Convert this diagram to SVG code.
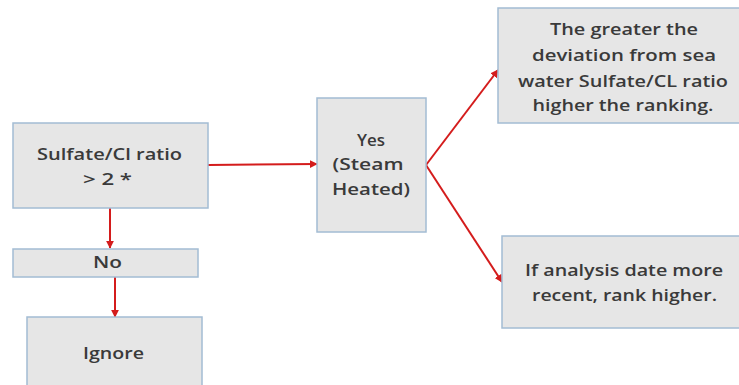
<svg xmlns="http://www.w3.org/2000/svg" width="739" height="385" viewBox="0 0 739 385">
  <defs>
    <style>
      .box { fill: #e6e6e6; stroke: #a3bcd3; stroke-width: 1.5; }
      .lbl { font-family: "Open Sans", "Liberation Sans", Arial, sans-serif; font-size: 16px; font-weight: 600; fill: #3a3a3a; text-anchor: middle; }
      .conn { stroke: #d41c1c; stroke-width: 2; fill: none; marker-end: url(#arrow); }
    </style>
    <marker id="arrow" viewBox="0 0 10 10" refX="9" refY="5" markerWidth="4" markerHeight="4" orient="auto">
      <path d="M0,0 L10,5 L0,10 z" fill="#d41c1c"/>
    </marker>
  </defs>
  <rect width="739" height="385" fill="#fff"/>

  <g id="connectors">
    <line class="conn" x1="208" y1="165" x2="317" y2="164"/>
    <line class="conn" x1="110" y1="208" x2="110" y2="248"/>
    <line class="conn" x1="115" y1="277" x2="115" y2="317"/>
    <line class="conn" x1="426" y1="165" x2="498" y2="70"/>
    <line class="conn" x1="426" y1="165" x2="502" y2="282"/>
  </g>

  <g id="ratio">
    <rect class="box" x="13" y="123" width="195" height="85"/>
    <text class="lbl" x="109.5" y="160" textLength="145" lengthAdjust="spacingAndGlyphs">Sulfate/Cl ratio</text>
    <text class="lbl" x="107.5" y="185" textLength="49" lengthAdjust="spacingAndGlyphs">&gt; 2 *</text>
  </g>

  <g id="no">
    <rect class="box" x="13" y="249" width="185" height="28"/>
    <text class="lbl" x="107.5" y="268" textLength="29" lengthAdjust="spacingAndGlyphs">No</text>
  </g>

  <g id="ignore">
    <rect class="box" x="27" y="317" width="175" height="80"/>
    <text class="lbl" x="113.5" y="359" textLength="61" lengthAdjust="spacingAndGlyphs">Ignore</text>
  </g>

  <g id="yes">
    <rect class="box" x="317" y="98" width="109" height="134"/>
    <text class="lbl" x="371" y="146" textLength="28" lengthAdjust="spacingAndGlyphs">Yes</text>
    <text class="lbl" x="368" y="170" textLength="71" lengthAdjust="spacingAndGlyphs">(Steam</text>
    <text class="lbl" x="371" y="195" textLength="78" lengthAdjust="spacingAndGlyphs">Heated)</text>
  </g>

  <g id="deviation">
    <rect class="box" x="498" y="8" width="250" height="115"/>
    <text class="lbl" x="624" y="35" textLength="148" lengthAdjust="spacingAndGlyphs">The greater the</text>
    <text class="lbl" x="624" y="61" textLength="184" lengthAdjust="spacingAndGlyphs">deviation  from sea</text>
    <text class="lbl" x="623" y="87" textLength="210" lengthAdjust="spacingAndGlyphs">water Sulfate/CL ratio</text>
    <text class="lbl" x="623" y="111" textLength="181" lengthAdjust="spacingAndGlyphs">higher the ranking.</text>
  </g>

  <g id="recent">
    <rect class="box" x="502" y="236" width="250" height="92"/>
    <text class="lbl" x="624" y="276" textLength="198" lengthAdjust="spacingAndGlyphs">If analysis date more</text>
    <text class="lbl" x="624.5" y="301" textLength="185" lengthAdjust="spacingAndGlyphs">recent, rank higher.</text>
  </g>
</svg>
